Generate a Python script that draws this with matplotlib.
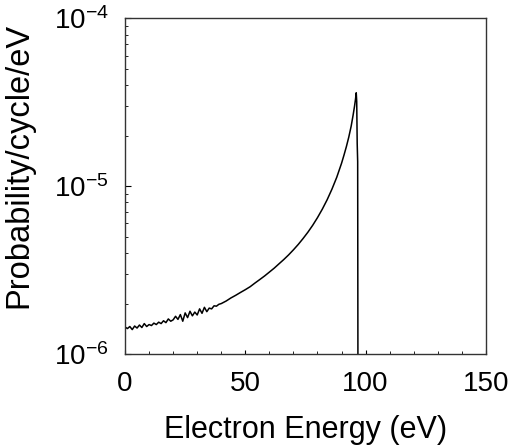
import numpy as np
import matplotlib.pyplot as plt
from matplotlib.ticker import FuncFormatter

plt.rcParams['font.family'] = ['Liberation Sans', 'DejaVu Sans']
plt.rcParams['mathtext.default'] = 'regular'
plt.rcParams['axes.unicode_minus'] = False

# electron energy (eV) and probability/cycle/eV
energy = [0, 1, 2, 3, 4, 5, 6, 7, 8, 9, 10, 11, 12, 13, 14, 15, 16, 17, 18, 19,
          20, 21, 22, 23, 24, 25, 26, 27, 28, 29, 30, 31, 32, 33, 34, 35, 36, 37,
          38, 39, 40, 42, 44, 46, 48, 50, 52, 54, 56, 58, 60, 62, 64, 66, 68, 70,
          72, 74, 76, 78, 80, 82, 84, 86, 88, 90, 91, 92, 93, 94, 94.8, 95.4,
          95.8, 96.1, 96.3, 96.5, 96.7, 96.8, 96.9, 150]
prob = [1.45e-6, 1.42e-6, 1.46e-6, 1.40e-6, 1.47e-6, 1.43e-6, 1.49e-6, 1.44e-6,
        1.52e-6, 1.46e-6, 1.50e-6, 1.48e-6, 1.53e-6, 1.50e-6, 1.55e-6, 1.52e-6,
        1.58e-6, 1.54e-6, 1.62e-6, 1.57e-6, 1.60e-6, 1.68e-6, 1.61e-6, 1.72e-6,
        1.57e-6, 1.76e-6, 1.65e-6, 1.80e-6, 1.69e-6, 1.78e-6, 1.71e-6, 1.86e-6,
        1.75e-6, 1.90e-6, 1.79e-6, 1.88e-6, 1.86e-6, 1.94e-6, 1.93e-6, 1.98e-6,
        2.0e-6, 2.07e-6, 2.16e-6, 2.24e-6, 2.33e-6, 2.42e-6, 2.52e-6, 2.65e-6,
        2.78e-6, 2.92e-6, 3.08e-6, 3.25e-6, 3.45e-6, 3.66e-6, 3.90e-6, 4.18e-6,
        4.50e-6, 4.88e-6, 5.32e-6, 5.85e-6, 6.50e-6, 7.30e-6, 8.30e-6, 9.6e-6,
        1.13e-5, 1.37e-5, 1.53e-5, 1.72e-5, 1.96e-5, 2.28e-5, 2.65e-5, 3.0e-5,
        3.3e-5, 3.6e-5, 3.2e-5, 1.8e-5, 1.4e-5, 1e-6, 1e-7, 1e-7]

fig = plt.figure(figsize=(5.13, 4.46), dpi=100)
ax = fig.add_axes([0.2437, 0.206, 0.7035, 0.753])

ax.plot(energy, prob, color='black', lw=1.1)

ax.set_yscale('log')
ax.set_xlim(0, 150)
ax.set_ylim(1e-6, 1e-4)
ax.set_xticks([0, 50, 100, 150])
ax.set_xticks(np.arange(0, 151, 10), minor=True)
ax.yaxis.set_major_formatter(FuncFormatter(
    lambda v, p: r'$10^{%d}$' % round(np.log10(v))))
ax.tick_params(axis='both', which='both', direction='in', labelsize=20)
ax.tick_params(axis='x', which='major', length=3, pad=12)
ax.tick_params(axis='x', which='minor', length=2)
ax.tick_params(axis='y', which='major', length=4, pad=12)
ax.tick_params(axis='y', which='minor', length=2.5)

for s in ax.spines.values():
    s.set_linewidth(1.0)
    s.set_color('#333333')

ax.set_xlabel('Electron Energy (eV)', fontsize=22, labelpad=13)
ax.set_ylabel('Probability/cycle/eV', fontsize=23.5)
ax.yaxis.set_label_coords(-0.252, 0.563)

fig.savefig('out.png', dpi=100)
